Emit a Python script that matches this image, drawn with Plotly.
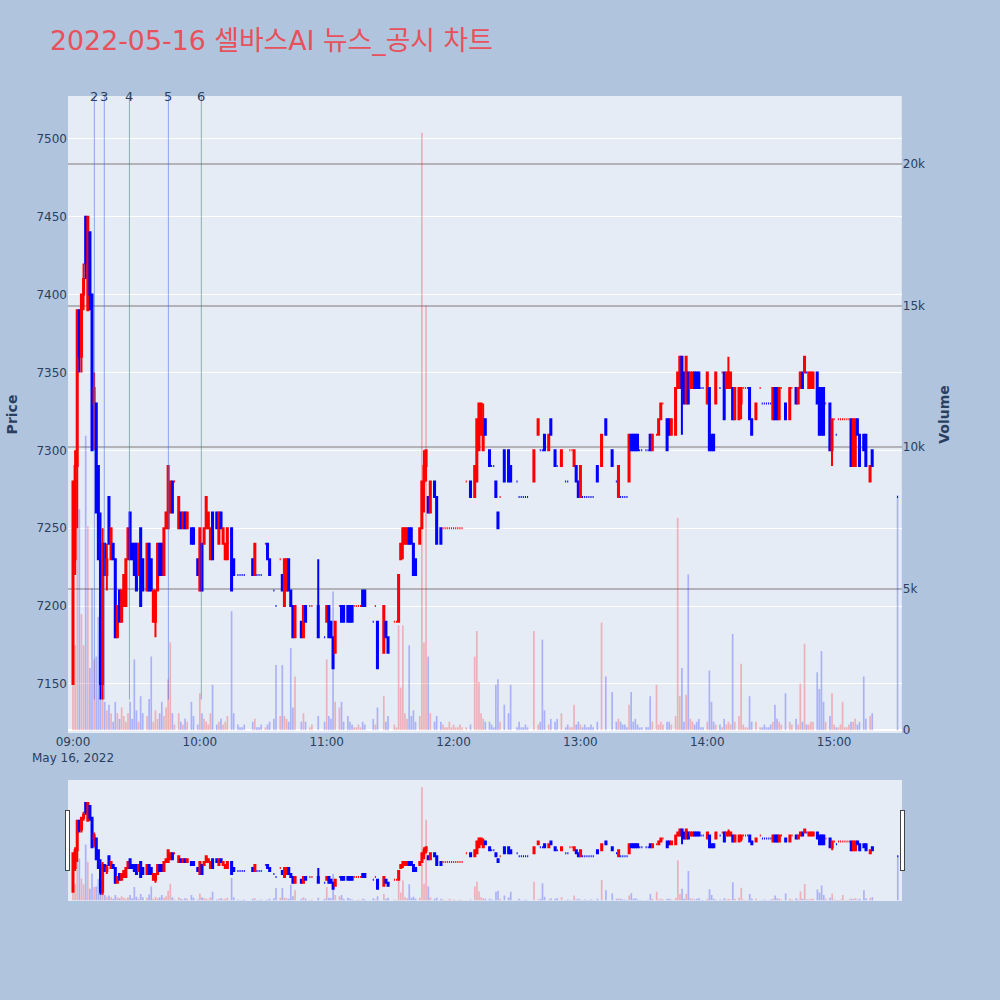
import pandas as pd
import plotly.graph_objects as go
from plotly.subplots import make_subplots

TRADE_DATE = "2022-05-16"
TITLE = "2022-05-16 셀바스AI 뉴스_공시 차트"

# minutes after 09:00 that have a trade
MINUTE = [
    0, 1, 2, 3, 4, 5, 6, 7, 8, 9,
    10, 11, 12, 13, 14, 15, 16, 17, 18, 19,
    20, 21, 22, 23, 24, 25, 26, 27, 28, 29,
    30, 31, 32, 33, 35, 36, 37, 38, 39, 40,
    41, 42, 43, 44, 45, 46, 47, 48, 50, 51,
    52, 53, 54, 56, 57, 59, 60, 61, 62, 63,
    64, 65, 66, 68, 69, 70, 71, 72, 73, 75,
    76, 78, 79, 80, 81, 85, 86, 87, 88, 89,
    91, 92, 93, 95, 96, 98, 99, 100, 101, 102,
    103, 104, 105, 108, 109, 110, 112, 113, 116, 119,
    120, 121, 122, 123, 124, 126, 127, 128, 130, 131,
    132, 133, 134, 135, 136, 137, 138, 142, 143, 144,
    147, 148, 149, 152, 153, 154, 155, 156, 157, 158,
    159, 160, 161, 162, 164, 165, 166, 167, 168, 169,
    171, 172, 174, 175, 176, 177, 178, 179, 180, 181,
    182, 183, 184, 186, 188, 190, 191, 192, 193, 194,
    195, 197, 198, 199, 200, 201, 202, 204, 206, 207,
    210, 211, 212, 213, 214, 215, 218, 220, 221, 222,
    223, 225, 226, 228, 229, 231, 233, 234, 235, 236,
    237, 238, 239, 240, 241, 242, 243, 244, 245, 246,
    248, 250, 252, 255, 257, 258, 259, 260, 261, 262,
    263, 264, 265, 266, 267, 268, 269, 271, 272, 273,
    274, 276, 277, 278, 279, 281, 282, 283, 285, 286,
    287, 288, 289, 290, 291, 292, 293, 294, 295, 296,
    297, 298, 300, 301, 302, 303, 304, 306, 307, 308,
    309, 310, 311, 312, 313, 315, 316, 317, 318, 319,
    320, 321, 323, 325, 326, 327, 328, 329, 330, 331,
    332, 333, 334, 335, 337, 339, 340, 342, 343, 344,
    345, 346, 347, 348, 349, 350, 352, 353, 354, 355,
    356, 358, 359, 360, 361, 362, 363, 364, 365, 366,
    367, 368, 369, 370, 371, 372, 374, 375, 377, 378,
    390,
]

OPEN = [
    7150, 7230, 7290, 7390, 7360, 7400, 7450, 7390, 7440, 7400,
    7330, 7330, 7290, 7230, 7150, 7240, 7220, 7270, 7230, 7240,
    7230, 7180, 7210, 7190, 7200, 7200, 7230, 7260, 7240, 7240,
    7240, 7220, 7250, 7230, 7210, 7240, 7230, 7190, 7190, 7210,
    7240, 7240, 7220, 7250, 7250, 7260, 7280, 7280, 7250, 7260,
    7250, 7260, 7250, 7250, 7250, 7230, 7210, 7240, 7240, 7250,
    7250, 7230, 7260, 7260, 7240, 7260, 7240, 7230, 7230, 7250,
    7230, 7220, 7220, 7220, 7220, 7230, 7220, 7220, 7220, 7220,
    7240, 7240, 7230, 7210, 7200, 7230, 7220, 7200, 7210, 7230,
    7210, 7200, 7180, 7190, 7180, 7200, 7200, 7200, 7200, 7180,
    7190, 7200, 7190, 7180, 7170, 7200, 7200, 7200, 7200, 7200,
    7200, 7200, 7200, 7200, 7200, 7210, 7210, 7190, 7200, 7190,
    7170, 7190, 7180, 7190, 7190, 7190, 7230, 7240, 7240, 7240,
    7250, 7250, 7240, 7230, 7240, 7250, 7280, 7290, 7270, 7260,
    7280, 7270, 7250, 7250, 7250, 7250, 7250, 7250, 7250, 7250,
    7250, 7250, 7250, 7280, 7280, 7270, 7280, 7300, 7310, 7300,
    7320, 7300, 7290, 7290, 7280, 7260, 7270, 7300, 7300, 7290,
    7280, 7270, 7270, 7270, 7270, 7270, 7280, 7310, 7300, 7300,
    7310, 7300, 7320, 7300, 7290, 7290, 7280, 7280, 7300, 7300,
    7290, 7290, 7280, 7270, 7270, 7270, 7270, 7270, 7270, 7270,
    7290, 7290, 7320, 7300, 7280, 7270, 7270, 7270, 7270, 7270,
    7280, 7310, 7310, 7310, 7310, 7300, 7300, 7300, 7300, 7310,
    7300, 7310, 7310, 7320, 7330, 7320, 7320, 7310, 7310, 7340,
    7340, 7360, 7350, 7330, 7350, 7340, 7340, 7350, 7350, 7350,
    7340, 7340, 7330, 7340, 7310, 7310, 7330, 7340, 7350, 7350,
    7340, 7340, 7340, 7340, 7320, 7320, 7330, 7340, 7340, 7340,
    7340, 7320, 7320, 7340, 7330, 7330, 7330, 7330, 7330, 7320,
    7340, 7340, 7320, 7340, 7330, 7320, 7340, 7340, 7330, 7340,
    7350, 7350, 7350, 7340, 7340, 7340, 7350, 7340, 7340, 7340,
    7330, 7330, 7300, 7320, 7310, 7320, 7320, 7320, 7320, 7320,
    7320, 7320, 7290, 7290, 7320, 7310, 7310, 7310, 7280, 7300,
    7270,
]

HIGH = [
    7280, 7300, 7390, 7390, 7400, 7420, 7450, 7450, 7440, 7400,
    7350, 7330, 7290, 7260, 7250, 7240, 7240, 7270, 7250, 7240,
    7230, 7200, 7210, 7210, 7220, 7230, 7250, 7260, 7240, 7240,
    7240, 7240, 7250, 7230, 7240, 7240, 7230, 7210, 7210, 7240,
    7240, 7240, 7250, 7260, 7290, 7280, 7280, 7280, 7270, 7260,
    7260, 7260, 7260, 7250, 7250, 7230, 7250, 7240, 7250, 7270,
    7260, 7250, 7260, 7260, 7260, 7260, 7250, 7240, 7250, 7250,
    7230, 7220, 7220, 7220, 7220, 7230, 7240, 7220, 7220, 7220,
    7240, 7240, 7230, 7210, 7200, 7230, 7220, 7230, 7230, 7230,
    7210, 7200, 7200, 7190, 7200, 7200, 7200, 7200, 7230, 7180,
    7200, 7200, 7190, 7180, 7190, 7200, 7200, 7200, 7200, 7200,
    7200, 7200, 7200, 7200, 7200, 7210, 7210, 7190, 7200, 7190,
    7200, 7190, 7180, 7190, 7190, 7220, 7240, 7250, 7250, 7250,
    7250, 7250, 7240, 7230, 7250, 7280, 7300, 7300, 7270, 7280,
    7280, 7270, 7250, 7250, 7250, 7250, 7250, 7250, 7250, 7250,
    7250, 7250, 7250, 7280, 7280, 7290, 7320, 7330, 7330, 7330,
    7320, 7300, 7290, 7290, 7280, 7260, 7270, 7300, 7300, 7290,
    7280, 7270, 7270, 7270, 7270, 7270, 7300, 7320, 7300, 7300,
    7310, 7310, 7320, 7300, 7290, 7300, 7280, 7280, 7300, 7300,
    7300, 7290, 7280, 7290, 7270, 7270, 7270, 7270, 7270, 7270,
    7290, 7310, 7320, 7300, 7280, 7290, 7270, 7270, 7270, 7270,
    7310, 7310, 7310, 7310, 7310, 7300, 7300, 7300, 7300, 7310,
    7310, 7310, 7320, 7330, 7330, 7320, 7320, 7320, 7340, 7350,
    7360, 7360, 7350, 7360, 7350, 7350, 7350, 7350, 7350, 7350,
    7340, 7340, 7350, 7340, 7310, 7310, 7350, 7340, 7350, 7350,
    7350, 7360, 7350, 7340, 7340, 7340, 7340, 7340, 7340, 7340,
    7340, 7320, 7330, 7340, 7330, 7330, 7330, 7330, 7330, 7340,
    7340, 7340, 7340, 7340, 7330, 7340, 7340, 7340, 7340, 7350,
    7350, 7360, 7350, 7350, 7350, 7350, 7350, 7340, 7340, 7340,
    7330, 7330, 7320, 7320, 7310, 7320, 7320, 7320, 7320, 7320,
    7320, 7320, 7320, 7320, 7320, 7310, 7310, 7310, 7290, 7300,
    7270,
]

LOW = [
    7150, 7220, 7250, 7350, 7350, 7390, 7410, 7390, 7390, 7300,
    7300, 7260, 7230, 7140, 7140, 7220, 7210, 7240, 7230, 7230,
    7180, 7180, 7190, 7190, 7200, 7200, 7230, 7230, 7230, 7220,
    7210, 7220, 7200, 7210, 7210, 7210, 7210, 7190, 7180, 7210,
    7220, 7220, 7220, 7250, 7250, 7260, 7260, 7280, 7250, 7250,
    7250, 7250, 7250, 7240, 7240, 7220, 7210, 7210, 7240, 7250,
    7250, 7230, 7230, 7250, 7240, 7250, 7240, 7230, 7230, 7210,
    7220, 7220, 7220, 7220, 7220, 7220, 7220, 7220, 7220, 7220,
    7240, 7230, 7220, 7210, 7200, 7230, 7210, 7200, 7210, 7210,
    7200, 7180, 7180, 7180, 7180, 7190, 7200, 7200, 7180, 7180,
    7190, 7180, 7180, 7160, 7170, 7200, 7190, 7190, 7190, 7190,
    7190, 7200, 7200, 7200, 7200, 7200, 7200, 7190, 7200, 7160,
    7170, 7180, 7170, 7190, 7190, 7190, 7230, 7230, 7240, 7240,
    7240, 7240, 7220, 7220, 7240, 7250, 7260, 7280, 7260, 7260,
    7270, 7240, 7240, 7250, 7250, 7250, 7250, 7250, 7250, 7250,
    7250, 7250, 7250, 7280, 7270, 7270, 7280, 7300, 7310, 7300,
    7310, 7290, 7290, 7290, 7270, 7250, 7270, 7280, 7280, 7280,
    7280, 7270, 7270, 7270, 7270, 7270, 7280, 7310, 7300, 7300,
    7300, 7300, 7310, 7290, 7290, 7290, 7280, 7280, 7300, 7300,
    7290, 7280, 7270, 7270, 7270, 7270, 7270, 7270, 7270, 7270,
    7280, 7290, 7310, 7290, 7280, 7270, 7270, 7270, 7270, 7270,
    7280, 7300, 7300, 7300, 7300, 7300, 7300, 7300, 7300, 7300,
    7300, 7310, 7310, 7320, 7330, 7300, 7310, 7310, 7310, 7340,
    7340, 7310, 7330, 7330, 7330, 7340, 7340, 7340, 7340, 7340,
    7340, 7340, 7330, 7300, 7300, 7300, 7330, 7340, 7350, 7320,
    7340, 7340, 7340, 7320, 7320, 7320, 7320, 7340, 7340, 7340,
    7320, 7310, 7320, 7340, 7330, 7330, 7330, 7330, 7330, 7320,
    7320, 7320, 7320, 7340, 7320, 7320, 7340, 7330, 7330, 7340,
    7340, 7350, 7350, 7340, 7340, 7340, 7330, 7310, 7310, 7310,
    7330, 7300, 7290, 7320, 7310, 7320, 7320, 7320, 7320, 7320,
    7320, 7290, 7290, 7290, 7310, 7290, 7300, 7290, 7280, 7290,
    7270,
]

CLOSE = [
    7280, 7290, 7390, 7360, 7400, 7410, 7420, 7450, 7400, 7300,
    7340, 7260, 7230, 7150, 7240, 7220, 7230, 7240, 7250, 7230,
    7180, 7200, 7190, 7210, 7220, 7230, 7250, 7230, 7230, 7220,
    7210, 7240, 7200, 7210, 7240, 7210, 7210, 7210, 7210, 7240,
    7220, 7220, 7250, 7260, 7290, 7280, 7260, 7280, 7270, 7250,
    7260, 7250, 7260, 7240, 7240, 7220, 7250, 7210, 7250, 7270,
    7260, 7250, 7230, 7250, 7260, 7250, 7250, 7240, 7250, 7210,
    7220, 7220, 7220, 7220, 7220, 7220, 7240, 7220, 7220, 7220,
    7240, 7230, 7220, 7210, 7200, 7230, 7210, 7230, 7230, 7210,
    7200, 7180, 7200, 7180, 7200, 7190, 7200, 7200, 7180, 7180,
    7200, 7180, 7180, 7160, 7190, 7200, 7190, 7190, 7190, 7190,
    7190, 7200, 7200, 7200, 7200, 7200, 7200, 7190, 7200, 7160,
    7200, 7180, 7170, 7190, 7190, 7220, 7240, 7250, 7250, 7250,
    7240, 7240, 7220, 7220, 7250, 7280, 7290, 7300, 7260, 7280,
    7270, 7240, 7240, 7250, 7250, 7250, 7250, 7250, 7250, 7250,
    7250, 7250, 7250, 7280, 7270, 7290, 7320, 7330, 7330, 7320,
    7310, 7290, 7290, 7290, 7270, 7250, 7270, 7280, 7280, 7280,
    7280, 7270, 7270, 7270, 7270, 7270, 7300, 7320, 7300, 7300,
    7300, 7310, 7310, 7290, 7290, 7300, 7280, 7280, 7300, 7300,
    7300, 7280, 7270, 7290, 7270, 7270, 7270, 7270, 7270, 7270,
    7280, 7310, 7310, 7290, 7280, 7290, 7270, 7270, 7270, 7270,
    7310, 7300, 7300, 7300, 7300, 7300, 7300, 7300, 7300, 7300,
    7310, 7310, 7320, 7330, 7330, 7300, 7310, 7320, 7340, 7350,
    7360, 7340, 7330, 7360, 7330, 7350, 7350, 7340, 7340, 7340,
    7340, 7340, 7350, 7300, 7300, 7300, 7350, 7340, 7350, 7320,
    7350, 7350, 7350, 7320, 7340, 7340, 7340, 7340, 7340, 7340,
    7320, 7310, 7330, 7340, 7330, 7330, 7330, 7330, 7330, 7340,
    7320, 7320, 7340, 7340, 7320, 7340, 7340, 7330, 7340, 7350,
    7340, 7360, 7350, 7350, 7350, 7350, 7330, 7310, 7310, 7310,
    7330, 7300, 7320, 7320, 7310, 7320, 7320, 7320, 7320, 7320,
    7320, 7290, 7320, 7320, 7310, 7290, 7300, 7290, 7290, 7290,
    7270,
]

VOLUME = [
    8100, 3000, 9200, 7800, 4100, 3000, 10400, 7200, 2200, 5000,
    2500, 2600, 4000, 3500, 1400, 1000, 700, 900, 600, 300,
    1000, 600, 400, 800, 500, 300, 600, 1000, 400, 2500,
    700, 300, 1200, 600, 500, 1100, 2600, 300, 700, 400,
    600, 1000, 500, 800, 1800, 3100, 600, 200, 600, 300,
    200, 400, 300, 1000, 500, 200, 1300, 600, 400, 300,
    200, 600, 1600, 200, 300, 400, 200, 300, 500, 4200,
    600, 200, 100, 100, 200, 300, 400, 100, 100, 200,
    100, 200, 300, 400, 2300, 500, 2300, 500, 400, 300,
    2900, 800, 1900, 300, 600, 300, 100, 200, 500, 300,
    2500, 500, 400, 4900, 1000, 800, 1000, 300, 500, 300,
    200, 100, 100, 200, 100, 300, 200, 400, 200, 800,
    1200, 300, 500, 200, 100, 3700, 1500, 3700, 600, 400,
    3000, 500, 700, 300, 500, 21100, 3100, 15000, 2600, 600,
    300, 500, 300, 200, 100, 100, 300, 100, 200, 100,
    100, 200, 100, 100, 200, 2600, 3500, 1700, 600, 400,
    300, 300, 200, 100, 1600, 1800, 300, 900, 600, 1600,
    100, 300, 100, 100, 200, 100, 3500, 200, 300, 3200,
    700, 200, 400, 300, 400, 600, 100, 200, 100, 100,
    900, 200, 300, 200, 100, 200, 100, 100, 200, 100,
    300, 3800, 1900, 1350, 300, 400, 300, 200, 200, 100,
    900, 1350, 300, 400, 200, 100, 100, 100, 100, 1200,
    300, 1600, 200, 300, 200, 300, 300, 200, 500, 7500,
    1200, 2200, 300, 1250, 5500, 400, 300, 200, 300, 400,
    100, 100, 300, 2100, 1000, 300, 200, 200, 100, 400,
    200, 300, 200, 3400, 300, 500, 2350, 200, 100, 100,
    1200, 300, 300, 100, 100, 200, 100, 100, 200, 300,
    900, 400, 300, 200, 1300, 300, 200, 400, 200, 1650,
    300, 3050, 200, 200, 300, 300, 2050, 1450, 2800, 1000,
    300, 500, 1300, 200, 100, 100, 200, 1000, 100, 100,
    200, 300, 300, 400, 200, 300, 1900, 400, 500, 600,
    8300,
]

# news markers (time, label)
NEWS_TIME = ["09:10:06", "09:14:48", "09:26:42", "09:45:06", "10:00:42"]
NEWS_LABEL = ["2", "3", "4", "5", "6"]

PRICE_RANGE = [7118.5, 7527.5]
VOLUME_RANGE = [-100, 22400]
X_RANGE = ["2022-05-16 08:57:38", "2022-05-16 15:32:00"]

UP_COLOR = "red"
DOWN_COLOR = "blue"
UP_VOL = "rgba(255,0,0,0.25)"
DOWN_VOL = "rgba(0,0,255,0.25)"

start = pd.Timestamp(f"{TRADE_DATE} 09:00")
times = [start + pd.Timedelta(minutes=m) for m in MINUTE]

# volume colour follows the candle direction (flat candles follow previous close)
vol_colors = []
rising = True
prev_close = None
for o, c in zip(OPEN, CLOSE):
    if c != o:
        rising = c > o
    elif prev_close is not None and c != prev_close:
        rising = c > prev_close
    vol_colors.append(UP_VOL if rising else DOWN_VOL)
    prev_close = c

fig = make_subplots(specs=[[{"secondary_y": True}]])
fig.add_trace(
    go.Candlestick(
        x=times, open=OPEN, high=HIGH, low=LOW, close=CLOSE, name="Price",
        increasing=dict(line=dict(color=UP_COLOR), fillcolor=UP_COLOR),
        decreasing=dict(line=dict(color=DOWN_COLOR), fillcolor=DOWN_COLOR),
    ),
    secondary_y=False,
)
fig.add_trace(
    go.Bar(x=times, y=VOLUME, name="Volume", marker=dict(color=vol_colors, line=dict(width=0))),
    secondary_y=True,
)

for t, lab in zip(NEWS_TIME, NEWS_LABEL):
    xv = f"{TRADE_DATE} {t}"
    fig.add_shape(type="line", xref="x", yref="y", x0=xv, x1=xv,
                  y0=min(LOW), y1=PRICE_RANGE[1],
                  line=dict(color="rgba(65,105,225,0.55)", width=1))
    fig.add_annotation(x=xv, y=1, xref="x", yref="paper", text=lab, showarrow=False,
                       yanchor="middle", xanchor="center",
                       font=dict(size=13, color="#2a3f5f"))

fig.update_layout(
    width=1000, height=1000,
    template="plotly",
    paper_bgcolor="#B0C4DE",
    plot_bgcolor="#E5ECF6",
    showlegend=False,
    font=dict(family="DejaVu Sans, Verdana, sans-serif", size=12, color="#2a3f5f"),
    title=dict(text=TITLE, x=0.05, xanchor="left", y=0.959, yanchor="middle",
               font=dict(size=26.8, color="#E8505B", family="DejaVu Sans, Noto Sans CJK KR, sans-serif")),
    margin=dict(l=68, r=45, t=96, b=100),
)
fig.update_xaxes(range=X_RANGE, showgrid=False, automargin=False, rangeslider=dict(visible=True))
fig.update_yaxes(title_text="<b>Price</b>", range=PRICE_RANGE, dtick=50, showgrid=True,
                 automargin=False, secondary_y=False)
fig.update_yaxes(title_text="<b>Volume</b>", range=VOLUME_RANGE, tick0=0, dtick=5000, showgrid=True,
                 automargin=False, gridcolor="#B2B2B8", gridwidth=2, secondary_y=True)

fig.write_html(
    "out.html",
    config={"displayModeBar": False},
    post_script="document.body.style.margin='0';document.body.style.overflow='hidden';",
)
